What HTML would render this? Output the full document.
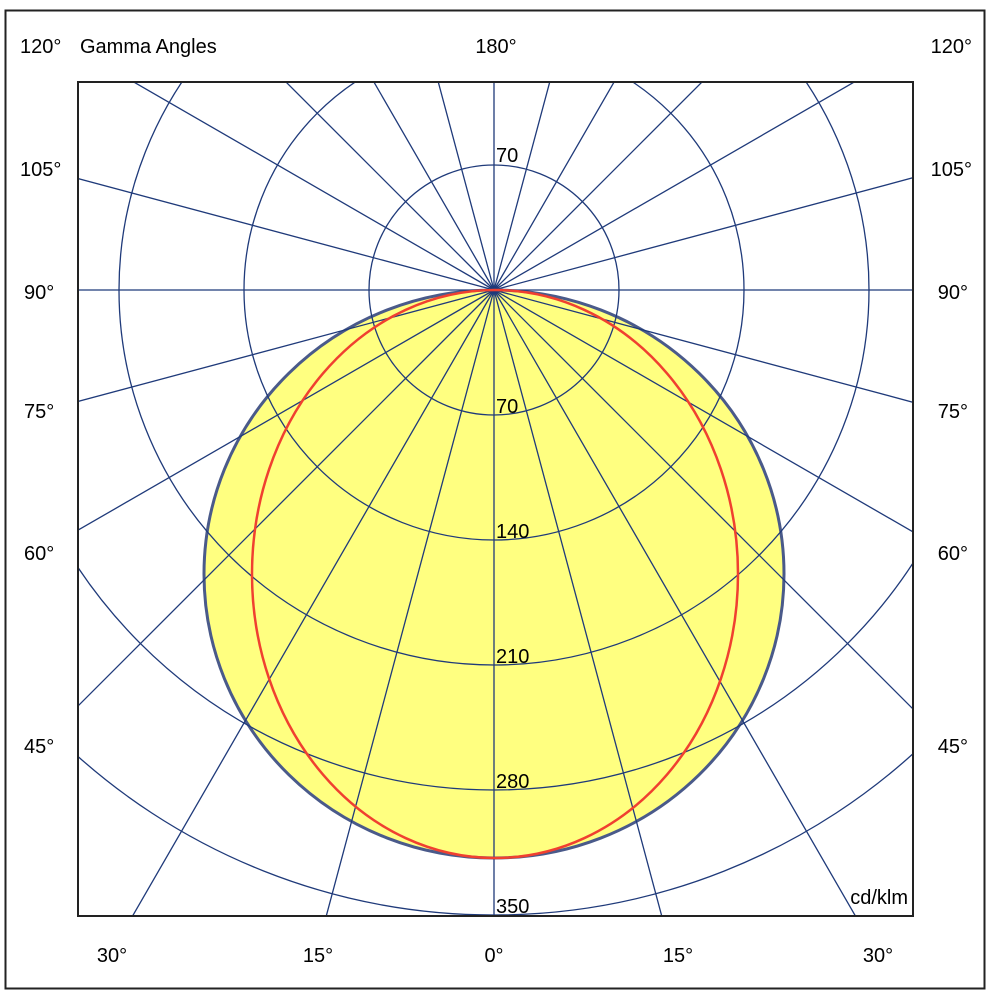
<!DOCTYPE html>
<html><head><style>html,body{margin:0;background:#fff;overflow:hidden;width:994px;height:1000px}svg{display:block}</style></head><body>
<svg width="994" height="1000" viewBox="0 0 994 1000" xmlns="http://www.w3.org/2000/svg" font-family="Liberation Sans, sans-serif" font-size="20">
<rect x="0" y="0" width="994" height="1000" fill="#fff"/>
<rect x="5.5" y="10.5" width="979" height="978" fill="none" stroke="#222" stroke-width="2"/>
<defs><clipPath id="c"><rect x="78" y="82" width="835" height="834"/></clipPath></defs>
<g clip-path="url(#c)">
<ellipse cx="494" cy="574" rx="290" ry="284" fill="#ffff80" stroke="#4a5a8a" stroke-width="3"/>
<g stroke="#1f3a7a" stroke-width="1.3" fill="none">
<circle cx="494" cy="290" r="125"/><circle cx="494" cy="290" r="250"/><circle cx="494" cy="290" r="375"/><circle cx="494" cy="290" r="500"/><circle cx="494" cy="290" r="625"/>
<line x1="494" y1="290" x2="494" y2="1300"/>
<line x1="494" y1="290" x2="494" y2="1300" transform="rotate(15 494 290)"/>
<line x1="494" y1="290" x2="494" y2="1300" transform="rotate(30 494 290)"/>
<line x1="494" y1="290" x2="494" y2="1300" transform="rotate(45 494 290)"/>
<line x1="494" y1="290" x2="494" y2="1300" transform="rotate(60 494 290)"/>
<line x1="494" y1="290" x2="494" y2="1300" transform="rotate(75 494 290)"/>
<line x1="494" y1="290" x2="494" y2="1300" transform="rotate(90 494 290)"/>
<line x1="494" y1="290" x2="494" y2="1300" transform="rotate(105 494 290)"/>
<line x1="494" y1="290" x2="494" y2="1300" transform="rotate(120 494 290)"/>
<line x1="494" y1="290" x2="494" y2="1300" transform="rotate(135 494 290)"/>
<line x1="494" y1="290" x2="494" y2="1300" transform="rotate(150 494 290)"/>
<line x1="494" y1="290" x2="494" y2="1300" transform="rotate(165 494 290)"/>
<line x1="494" y1="290" x2="494" y2="1300" transform="rotate(180 494 290)"/>
<line x1="494" y1="290" x2="494" y2="1300" transform="rotate(-15 494 290)"/>
<line x1="494" y1="290" x2="494" y2="1300" transform="rotate(-30 494 290)"/>
<line x1="494" y1="290" x2="494" y2="1300" transform="rotate(-45 494 290)"/>
<line x1="494" y1="290" x2="494" y2="1300" transform="rotate(-60 494 290)"/>
<line x1="494" y1="290" x2="494" y2="1300" transform="rotate(-75 494 290)"/>
<line x1="494" y1="290" x2="494" y2="1300" transform="rotate(-90 494 290)"/>
<line x1="494" y1="290" x2="494" y2="1300" transform="rotate(-105 494 290)"/>
<line x1="494" y1="290" x2="494" y2="1300" transform="rotate(-120 494 290)"/>
<line x1="494" y1="290" x2="494" y2="1300" transform="rotate(-135 494 290)"/>
<line x1="494" y1="290" x2="494" y2="1300" transform="rotate(-150 494 290)"/>
<line x1="494" y1="290" x2="494" y2="1300" transform="rotate(-165 494 290)"/>
</g>
<ellipse cx="495" cy="574" rx="243" ry="284" fill="none" stroke="#f04030" stroke-width="2.5"/>
</g>
<rect x="78" y="82" width="835" height="834" fill="none" stroke="#222" stroke-width="2"/>
<g fill="#000">
<text x="496" y="162">70</text>
<text x="496" y="413">70</text>
<text x="496" y="538">140</text>
<text x="496" y="663">210</text>
<text x="496" y="788">280</text>
<text x="496" y="913">350</text>
<text x="908" y="904" text-anchor="end">cd/klm</text>
<text x="20" y="53">120°</text>
<text x="80" y="53">Gamma Angles</text>
<text x="496" y="53" text-anchor="middle">180°</text>
<text x="972" y="53" text-anchor="end">120°</text>
<text x="20" y="176">105°</text><text x="972" y="176" text-anchor="end">105°</text>
<text x="24" y="299">90°</text><text x="968" y="299" text-anchor="end">90°</text>
<text x="24" y="418">75°</text><text x="968" y="418" text-anchor="end">75°</text>
<text x="24" y="560">60°</text><text x="968" y="560" text-anchor="end">60°</text>
<text x="24" y="753">45°</text><text x="968" y="753" text-anchor="end">45°</text>
<text x="112" y="962" text-anchor="middle">30°</text>
<text x="318" y="962" text-anchor="middle">15°</text>
<text x="494" y="962" text-anchor="middle">0°</text>
<text x="678" y="962" text-anchor="middle">15°</text>
<text x="878" y="962" text-anchor="middle">30°</text>
</g>
</svg>
</body></html>
